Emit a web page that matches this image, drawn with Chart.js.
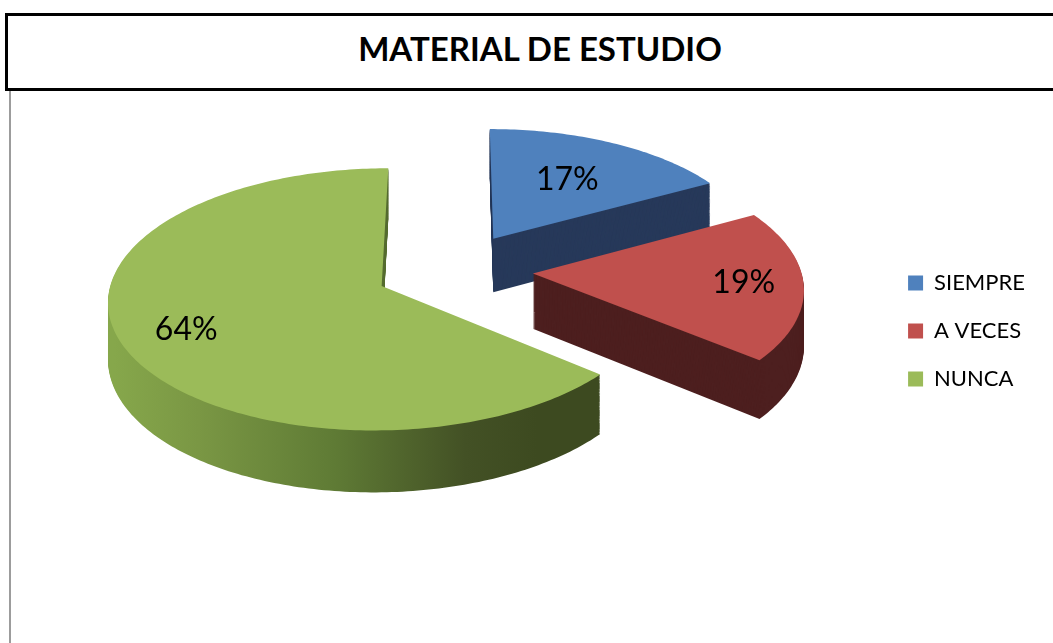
<!DOCTYPE html>
<html>
<head>
<meta charset="utf-8">
<script src="https://cdn.jsdelivr.net/npm/chart.js"></script>
<style>
  html, body { margin: 0; padding: 0; background: #fff; width: 1053px; height: 643px; overflow: hidden; }
  #frame { position: absolute; left: 9px; top: 91px; width: 1100px; height: 600px; border-left: 2px solid #9c9c9c; }
  #titlebox { position: absolute; left: 5px; top: 13px; width: 1064px; height: 72px; border: 3px solid #000; background: #fff;
    font: bold 33px Lato, sans-serif; color: #000; text-align: center; line-height: 65px; }
  #wrap { position: absolute; left: 12px; top: 93px; }
</style>
</head>
<body>
<div id="frame"></div>
<div id="titlebox">MATERIAL DE ESTUDIO</div>
<div id="wrap"><canvas id="c" width="1041" height="550"></canvas></div>
<script>
const categories = ['SIEMPRE', 'A VECES', 'NUNCA'];
const values = [17, 19, 64];
const colors = ['#4f81bd', '#c0504d', '#9bbb59'];

// exploded 3D pie: Chart.js lays out the arcs, this plugin paints them tilted with depth
const pie3d = {
  id: 'pie3d',
  beforeDatasetsDraw(chart, args, opts) {
    const arcs = chart.getDatasetMeta(0).data;
    if (!arcs.length) return false;
    const ctx = chart.ctx;
    const R = arcs[0].outerRadius;
    const cx = arcs[0].x, cy = arcs[0].y - opts.lift;
    const sy = R * opts.tilt, B = opts.persp, e = opts.explode / R;
    const proj = (px, py, z) => {
      const w = 1 - B * py;
      return [cx + R * px / w, cy + (sy * py + z) / w];
    };
    const shapes = arcs.map(a => {
      const mid = (a.startAngle + a.endAngle) / 2;
      const ax = Math.cos(mid) * e, ay = Math.sin(mid) * e;
      const pts = [[ax, ay]];
      const n = Math.max(8, Math.ceil((a.endAngle - a.startAngle) * 180 / Math.PI));
      for (let k = 0; k <= n; k++) {
        const t = a.startAngle + (a.endAngle - a.startAngle) * k / n;
        pts.push([ax + Math.cos(t), ay + Math.sin(t)]);
      }
      return { pts, ax, ay, mid };
    });
    const fill = (pts, z, style) => {
      ctx.beginPath();
      pts.forEach((p, k) => {
        const [x, y] = proj(p[0], p[1], z);
        k ? ctx.lineTo(x, y) : ctx.moveTo(x, y);
      });
      ctx.closePath();
      ctx.fillStyle = style;
      ctx.fill();
    };

    const g = ctx.createLinearGradient(cx - 1.27 * R, 0, cx + 0.31 * R, 0);
    g.addColorStop(0, '#86a74b');
    g.addColorStop(0.2, '#7a9744');
    g.addColorStop(0.52, '#5f7b35');
    g.addColorStop(0.83, '#435125');
    g.addColorStop(1, '#3d4a20');
    const sides = ['#27395a', '#4d1f1f', g];

    ctx.save();
    for (let z = opts.depth; z > 0; z--) {
      shapes.forEach((s, i) => fill(s.pts, z, sides[i]));
    }
    shapes.forEach((s, i) => fill(s.pts, 0, arcs[i].options.backgroundColor));

    ctx.fillStyle = '#000';
    ctx.font = '32px Lato, sans-serif';
    ctx.textAlign = 'center';
    ctx.textBaseline = 'middle';
    shapes.forEach((s, i) => {
      const f = opts.labelAt[i];
      const [x, y] = proj(s.ax + Math.cos(s.mid) * f, s.ay + Math.sin(s.mid) * f, 0);
      ctx.fillText(values[i] + '%', x, y);
    });
    ctx.restore();
    return false;
  }
};

new Chart(document.getElementById('c'), {
  type: 'pie',
  data: {
    labels: categories,
    datasets: [{ data: values, backgroundColor: colors, borderWidth: 0 }]
  },
  options: {
    responsive: false,
    animation: false,
    events: [],
    radius: 268,
    layout: { padding: { left: 14, right: 18, top: 0, bottom: 74 } },
    plugins: {
      title: { display: false },
      tooltip: { enabled: false },
      legend: {
        position: 'right',
        labels: {
          boxWidth: 15,
          boxHeight: 15,
          padding: 26,
          color: '#000',
          font: { family: 'Lato, sans-serif', size: 22 }
        }
      },
      pie3d: { tilt: 0.472, persp: 0.1, depth: 55, explode: 79, lift: 61, labelAt: [0.6, 0.78, 0.76] }
    }
  },
  plugins: [pie3d]
});
</script>
</body>
</html>
